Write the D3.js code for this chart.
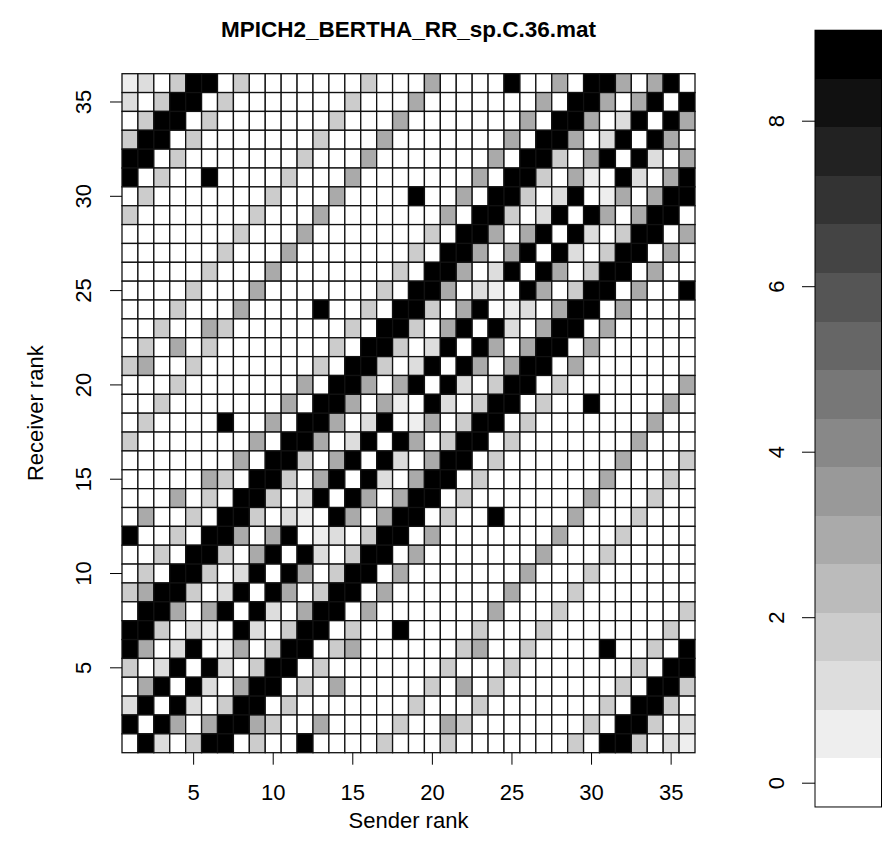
<!DOCTYPE html>
<html lang="en">
<head>
  <meta charset="UTF-8">
  <title>MPICH2_BERTHA_RR_sp.C.36.mat</title>
  <script src="https://d3js.org/d3.v7.min.js"></script>
  <style>
    body { margin: 0; background: #fff; }
    svg text { font-family: "Liberation Sans", Arial, Helvetica, sans-serif; fill: #000; }
  </style>
</head>
<body>
  <script>
    const chartTitle = 'MPICH2_BERTHA_RR_sp.C.36.mat';
    const senderRanks = d3.range(1, 37);
    const receiverRanks = d3.range(1, 37);
    const rankTicks = [5, 10, 15, 20, 25, 30, 35];
    const legendTicks = [0, 2, 4, 6, 8];

    // shade codes used below -> value
    const shadeCodes = ['W', 'E', 'D', 'C', 'A', 'B'];
    const shadeValues = [0, 0.59, 1.17, 1.76, 2.93, 8.8];

    // one string per receiver rank (36 at the top down to 1), one char per sender rank 1..36
    const receiverRows = [
      'EDWCBBWCWWWW WWWCWWWAWWWW BWWAWBBAWABW',
      'DWCBBWCWWWWW WWCWWWAWWWWW WWAWBBAWABWB',
      'WCBBWCWWWWWW WCWWWAWWWWWW WAWBBAWDBWBA',
      'CBBWCWWWWWWW CWWWAWWWWWWW AWBBAWDBWBAW',
      'BBWCWWWWWWWC WWWAWWWWWWWA WBBCWABWBDWA',
      'BWCWWBWWWWCW WWAWWWWWWWAW BBCWAEWBDWAB',
      'WCWWWWWWWCWW WAWWWWBWWAWB BCWDBWEAWABB',
      'CWWWWWWWCWWW AWWWWWWWAWBB CWDBWBAWABBW',
      'WWWWWWWCWWWA WWWWWWWCWBBA WABWBDWCBBWA',
      'WWWWWWCWWWAW WWWWWWCWBBAW ABWBDWCBBWAW',
      'WWWWWCWWWAWW WWWWWCWBBAWD BWBAWCBBWAWW',
      'WWWWCWWWAWWW WWWWCWBBAWDE WBAWCBBWAWWB',
      'WWWCWWWAWWWW BWWCWBBCWABW EDWABBWAWWWW',
      'WWCWWACWWWWW WWCWBBCWABWB DWABBWAWWWWW',
      'WCWAWCWWWWWW WCWBBCWDBWBA WABBWAWWWWWW',
      'CAWWCWWWWWWW CWBBCWDBWBAW ABBWAWWWWWWW',
      'WWWCWWWWWWWA WBBAWABWBDWC BBWCWWWWWWWA',
      'WWCWWWWWWWAW BBAWAEWBDWCB BWCWWBWWWWAW',
      'WCWWWWBWWAWB BAWDBWEAWCBB WCWWWWWWWAWW',
      'CWWWWWWWAWBB AWDBWBAWCBBW CWWWWWWWAWWW',
      'WWWWWWWAWBBC WABWBDWABBWC WWWWWWWAWWWC',
      'WWWWWACWBBCW ABWBDWABBWCW WWWWWWAWWWCW',
      'WWWAWCWBBCWD BWBAWABBWCWW WWWWWAWWWCWW',
      'WAWWCWBBCWDE WBAWABBWCWWB WWWWAWWWCWWW',
      'BWWCWBBAWABW EDWCBBWAWWWW WWWAWWWCWWWW',
      'WWCWBBCWABWB DWCBBWAWWWWW WWAWWWCWWWWW',
      'WCWBBCWDBWBA WCBBWAWWWWWW WAWWWCWWWWWW',
      'CABBCWDBWBAW CBBWAWWWWWWW AWWWCWWWWWWW',
      'WBBAWABWBDWA BBWAWWWWWWWA WWWCWWWWWWWC',
      'BBCWDEWBDWCB BWCWWBWWWWCW WWCWWWWWWWCW',
      'BAWDBWEAWCBB WCAWWWWWWCAW WCWWWWBWWCWB',
      'CWDBWBDWCBBW CWWWWWWWCWWW CWWWWWWWCWBB',
      'WABWBDWABBWC WAWWWWWCWAWC WWWWWWWCWBBC',
      'DBWBDWCBBWCW WWWWWWCWWWCW WWWWWWCWBBCW',
      'BWBAWABBACWW AWWWWCWWACWW WWWWWCWBBCWD',
      'WBDWCBBWCWWB WWWWCWWWCWWW WWWWCWBBCWDE'
    ];

    const width = 883;
    const height = 855;
    const plot = { left: 122, right: 695, top: 73.7, bottom: 752.7 };
    const bar = { left: 815, right: 881.5 };

    const cells = [];
    receiverRows.forEach((row, i) => {
      const receiver = 36 - i;
      row.replace(/ /g, '').split('').forEach((code, j) => {
        cells.push({ sender: senderRanks[j], receiver: receiver, value: shadeValues[shadeCodes.indexOf(code)] });
      });
    });

    // 16 grey levels, white at 0 to black at the top
    const levels = d3.range(16).map(k => d3.rgb(255 - 17 * k, 255 - 17 * k, 255 - 17 * k).formatHex());
    const color = d3.scaleQuantize().domain([-0.2933, 9.0933]).range(levels);

    const x = d3.scaleBand().domain(senderRanks).range([plot.left, plot.right]);
    const y = d3.scaleBand().domain(receiverRanks).range([plot.bottom, plot.top]);

    const svg = d3.select('body').append('svg')
      .attr('width', width)
      .attr('height', height);

    svg.append('g')
      .selectAll('rect')
      .data(cells)
      .join('rect')
      .attr('x', d => x(d.sender))
      .attr('y', d => y(d.receiver))
      .attr('width', x.bandwidth())
      .attr('height', y.bandwidth())
      .attr('fill', d => color(d.value))
      .attr('stroke', '#111')
      .attr('stroke-width', 1.3);

    // x axis
    const xAxis = svg.append('g')
      .attr('transform', `translate(0,${plot.bottom})`)
      .call(d3.axisBottom(x).tickValues(rankTicks).tickSize(12).tickSizeOuter(0).tickPadding(20));
    xAxis.select('.domain').remove();
    xAxis.selectAll('line').attr('stroke', '#000').attr('stroke-width', 1);
    xAxis.selectAll('text').attr('font-size', 22).style('font-family', '"Liberation Sans", Arial, sans-serif');

    // y axis, labels parallel to the axis
    const yAxis = svg.append('g')
      .attr('transform', `translate(${plot.left},0)`)
      .call(d3.axisLeft(y).tickValues(rankTicks).tickSize(12).tickSizeOuter(0));
    yAxis.select('.domain').remove();
    yAxis.selectAll('line').attr('stroke', '#000').attr('stroke-width', 1);
    yAxis.selectAll('text')
      .attr('transform', 'rotate(-90)')
      .attr('text-anchor', 'middle')
      .attr('x', 0)
      .attr('y', -31)
      .attr('dy', 0)
      .attr('font-size', 22)
      .style('font-family', '"Liberation Sans", Arial, sans-serif');

    svg.append('text')
      .attr('x', (plot.left + plot.right) / 2)
      .attr('y', 37)
      .attr('text-anchor', 'middle')
      .attr('font-size', 22.5)
      .attr('font-weight', 'bold')
      .text(chartTitle);

    svg.append('text')
      .attr('x', (plot.left + plot.right) / 2)
      .attr('y', 828)
      .attr('text-anchor', 'middle')
      .attr('font-size', 22)
      .text('Sender rank');

    svg.append('text')
      .attr('transform', `translate(43,${(plot.top + plot.bottom) / 2}) rotate(-90)`)
      .attr('text-anchor', 'middle')
      .attr('font-size', 22)
      .text('Receiver rank');

    // colour legend
    const legendY = d3.scaleLinear().domain([0, 8]).range([782.7, 120.7]);

    svg.append('g')
      .selectAll('rect')
      .data(color.range())
      .join('rect')
      .attr('x', bar.left)
      .attr('width', bar.right - bar.left)
      .attr('y', d => legendY(color.invertExtent(d)[1]))
      .attr('height', d => legendY(color.invertExtent(d)[0]) - legendY(color.invertExtent(d)[1]))
      .attr('fill', d => d)
      .attr('shape-rendering', 'crispEdges');

    svg.append('rect')
      .attr('x', bar.left)
      .attr('y', legendY(color.domain()[1]))
      .attr('width', bar.right - bar.left)
      .attr('height', legendY(color.domain()[0]) - legendY(color.domain()[1]))
      .attr('fill', 'none')
      .attr('stroke', '#000')
      .attr('stroke-width', 1);

    const lAxis = svg.append('g')
      .attr('transform', `translate(${bar.left},0)`)
      .call(d3.axisLeft(legendY).tickValues(legendTicks).tickSize(13).tickSizeOuter(0));
    lAxis.select('.domain').remove();
    lAxis.selectAll('line').attr('stroke', '#000').attr('stroke-width', 1);
    lAxis.selectAll('text')
      .attr('transform', 'rotate(-90)')
      .attr('text-anchor', 'middle')
      .attr('x', 0)
      .attr('y', -31)
      .attr('dy', 0)
      .attr('font-size', 22)
      .style('font-family', '"Liberation Sans", Arial, sans-serif');
  </script>
</body>
</html>
